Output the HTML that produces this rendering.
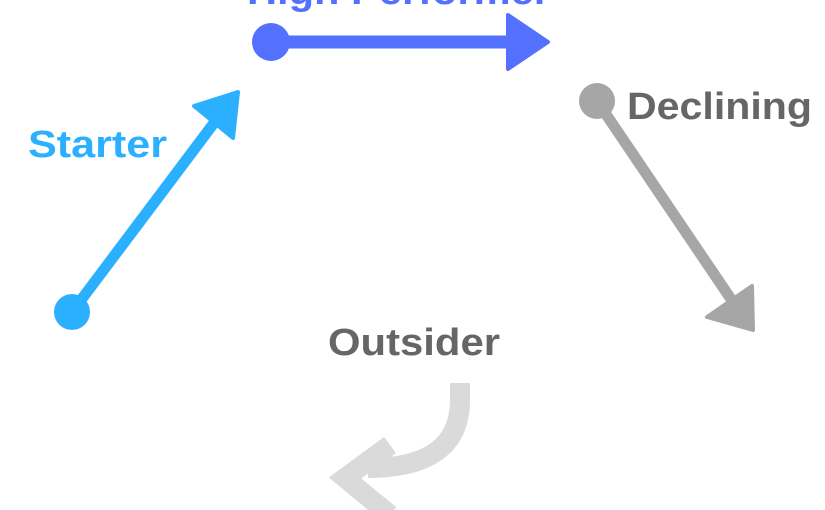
<!DOCTYPE html>
<html><head><style>
html,body{margin:0;padding:0;background:#fff;}
svg{display:block;}
text{font-family:"Liberation Sans",sans-serif;font-weight:bold;}
</style></head><body>
<svg width="825" height="510" viewBox="0 0 825 510" xmlns="http://www.w3.org/2000/svg">
<text x="247" y="4" font-size="38" fill="#5470ff" textLength="303" lengthAdjust="spacingAndGlyphs">High Performer</text>
<line x1="271" y1="42" x2="512" y2="42" stroke="#5470ff" stroke-width="13"/>
<circle cx="271" cy="42" r="19" fill="#5470ff"/>
<polygon points="508,15 548,42 508,69" fill="#5470ff" stroke="#5470ff" stroke-width="4" stroke-linejoin="round"/>

<text x="28" y="157" font-size="38" fill="#2bb0ff" textLength="139" lengthAdjust="spacingAndGlyphs">Starter</text>
<line x1="72" y1="312" x2="220" y2="115" stroke="#2bb0ff" stroke-width="11"/>
<circle cx="72" cy="312" r="18" fill="#2bb0ff"/>
<polygon points="194,106 238,92 233,138" fill="#2bb0ff" stroke="#2bb0ff" stroke-width="4" stroke-linejoin="round"/>

<text x="627" y="119" font-size="38" fill="#666" textLength="185" lengthAdjust="spacingAndGlyphs">Declining</text>
<line x1="597" y1="101" x2="735" y2="305" stroke="#a6a6a6" stroke-width="11"/>
<circle cx="597" cy="101" r="18" fill="#a6a6a6"/>
<polygon points="752,286 753,330 707,317" fill="#a6a6a6" stroke="#a6a6a6" stroke-width="4" stroke-linejoin="round"/>

<text x="328" y="355" font-size="38" fill="#666" textLength="172" lengthAdjust="spacingAndGlyphs">Outsider</text>
<path d="M460,383 L460,400 Q460,468 368,468" fill="none" stroke="#dadada" stroke-width="20"/>
<polyline points="390,445 345,478 390,515" fill="none" stroke="#dadada" stroke-width="20"/>
</svg>
</body></html>
